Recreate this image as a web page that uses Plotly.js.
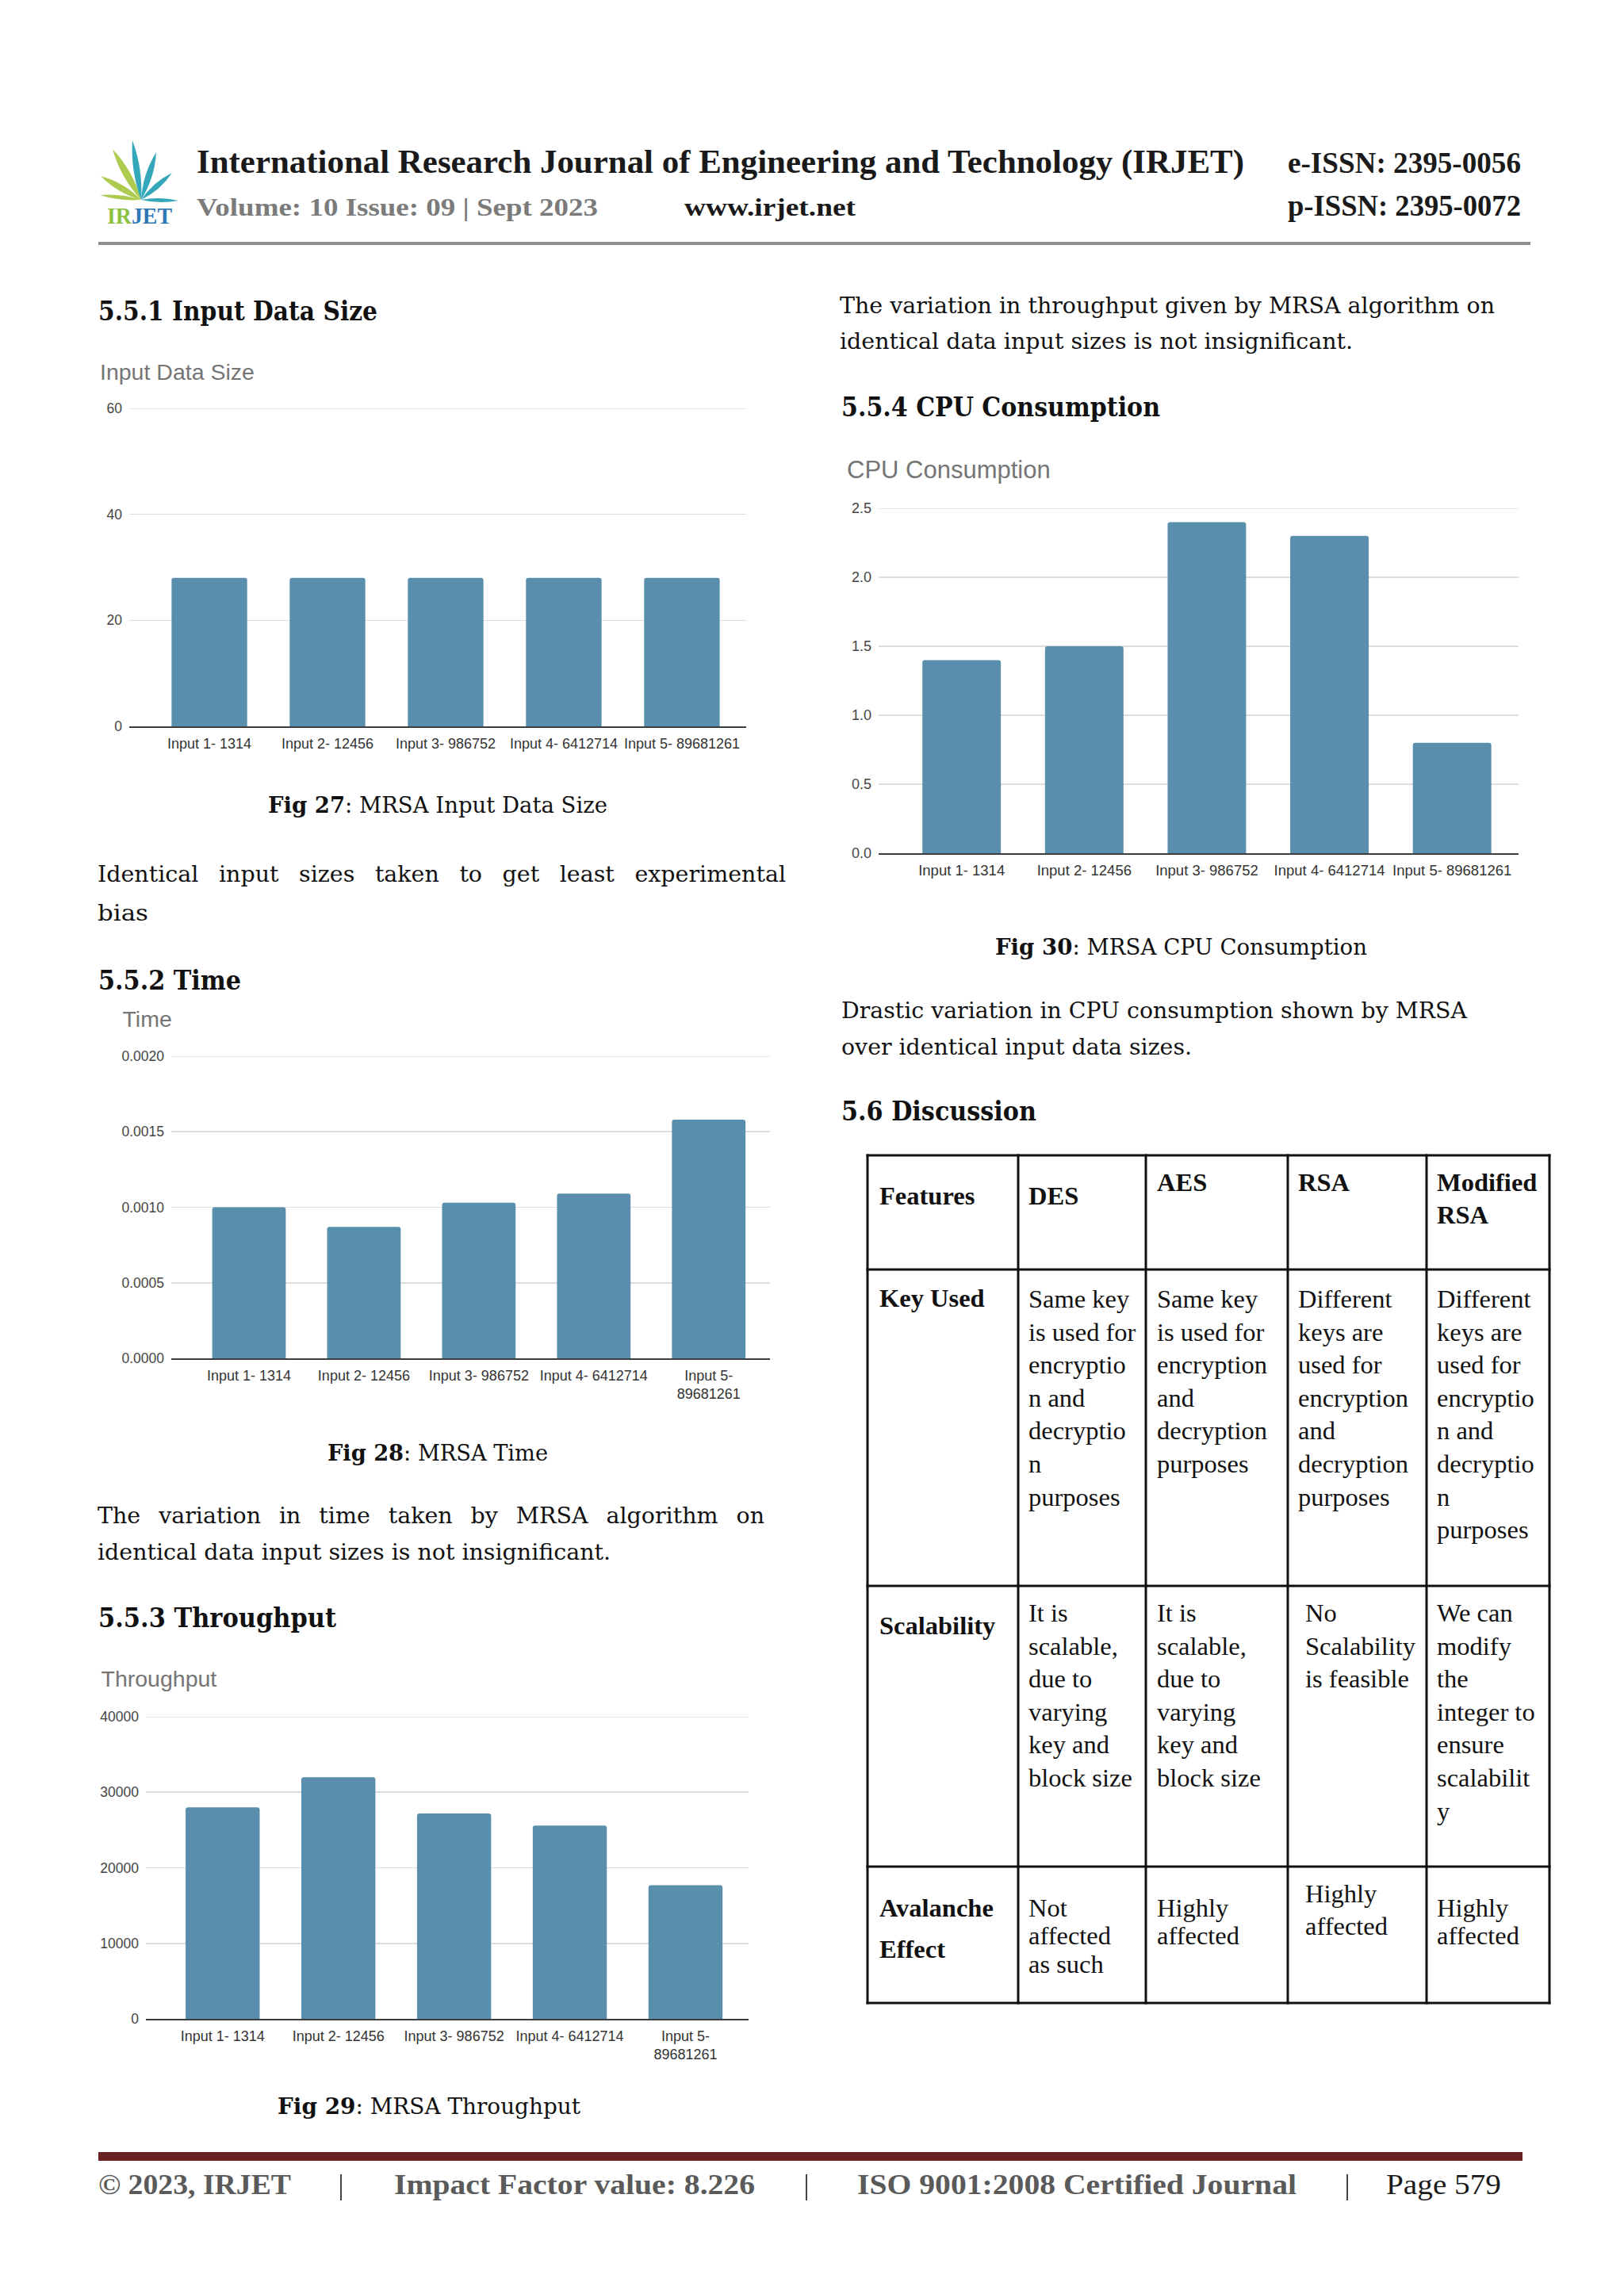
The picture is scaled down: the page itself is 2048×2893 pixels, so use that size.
<!DOCTYPE html>
<html><head><meta charset="utf-8">
<script src="https://cdn.plot.ly/plotly-3.0.1.min.js"></script>
<style>
html,body{margin:0;padding:0;background:#fff;}
#page{position:relative;width:2048px;height:2893px;background:#fff;overflow:hidden;}
#txt{position:absolute;left:0;top:0;}
.chart{position:absolute;}
</style></head><body>
<div id="page">
<svg id="txt" width="2048" height="2893" xmlns="http://www.w3.org/2000/svg"></svg>
<div id="chart1" class="chart"></div>
<div id="chart2" class="chart"></div>
<div id="chart3" class="chart"></div>
<div id="chart4" class="chart"></div>
</div>
<script>
// ---------------- DATA ----------------
const categories = ["Input 1- 1314", "Input 2- 12456", "Input 3- 986752", "Input 4- 6412714", "Input 5- 89681261"];
const wrappedTickLabels = ["Input 1- 1314", "Input 2- 12456", "Input 3- 986752", "Input 4- 6412714", "Input 5-<br>89681261"];
const inputDataSize = [28, 28, 28, 28, 28];
const timeValues = [0.00100, 0.00087, 0.00103, 0.00109, 0.00158];
const throughputValues = [28000, 32000, 27200, 25600, 17700];
const cpuValues = [1.4, 1.5, 2.4, 2.3, 0.8];

const tableHeader = [["Features"], ["DES"], ["AES"], ["RSA"], ["Modified", "RSA"]];
const tableKeyUsed = [["Key Used"],
  ["Same key", "is used for", "encryptio", "n and", "decryptio", "n", "purposes"],
  ["Same key", "is used for", "encryption", "and", "decryption", "purposes"],
  ["Different", "keys are", "used for", "encryption", "and", "decryption", "purposes"],
  ["Different", "keys are", "used for", "encryptio", "n and", "decryptio", "n", "purposes"]];
const tableScalability = [["Scalability"],
  ["It is", "scalable,", "due to", "varying", "key and", "block size"],
  ["It is", "scalable,", "due to", "varying", "key and", "block size"],
  ["No", "Scalability", "is feasible"],
  ["We can", "modify", "the", "integer to", "ensure", "scalabilit", "y"]];
const tableAvalanche = [["Avalanche", "Effect"],
  ["Not", "affected", "as such"],
  ["Highly", "affected"],
  ["Highly", "affected"],
  ["Highly", "affected"]];

// ---------------- SVG TEXT HELPERS ----------------
const NS = 'http://www.w3.org/2000/svg';
const svg = document.getElementById('txt');
function el(tag, attrs, parent) {
  const e = document.createElementNS(NS, tag);
  for (const k in attrs) e.setAttribute(k, attrs[k]);
  (parent || svg).appendChild(e);
  return e;
}
const SERIF_HEAD = "'Liberation Serif', 'Times New Roman', serif";
const SERIF_BODY = "'DejaVu Serif', serif";
function txt(x, y, parts, o) {
  const t = el('text', {x: x, y: y, 'font-family': o.family || SERIF_BODY, 'font-size': o.size,
    fill: o.color || '#111', 'font-weight': o.weight || 'normal'});
  if (typeof parts === 'string') t.textContent = parts;
  else parts.forEach(p => { const s = el('tspan', {'font-weight': p[1]}, t); s.textContent = p[0]; });
  if (o.w) { t.setAttribute('textLength', o.w); t.setAttribute('lengthAdjust', 'spacingAndGlyphs'); }
  return t;
}
function justify(x0, x1, y, str, o) {
  const words = str.split(' ');
  const els = words.map(w => txt(0, y, w, o));
  const ws = els.map(e => e.getComputedTextLength());
  const tot = ws.reduce((a, b) => a + b, 0);
  const gap = (x1 - x0 - tot) / (words.length - 1);
  let x = x0;
  els.forEach((e, i) => { e.setAttribute('x', x); x += ws[i] + gap; });
}

// ---------------- HEADER ----------------
function leaf(bx, by, tx, ty, w, color) {
  const mx = (bx + tx) / 2, my = (by + ty) / 2;
  const dx = tx - bx, dy = ty - by, L = Math.hypot(dx, dy);
  const px = -dy / L * w, py = dx / L * w;
  el('path', {d: `M${bx},${by} Q${mx + px},${my + py} ${tx},${ty} Q${mx - px},${my - py} ${bx},${by} Z`, fill: color, opacity: 0.9});
}
const G = '#a3c53c', B = '#1f9db2';
leaf(178, 252, 126, 246, 5, G);
leaf(178, 252, 127, 222, 8, G);
leaf(178, 252, 142, 188, 9, G);
leaf(178, 252, 167, 177, 8, B);
leaf(178, 252, 197, 192, 8, B);
leaf(178, 252, 217, 218, 7, B);
leaf(178, 252, 225, 253, 5, B);
txt(135, 282, [["IR", 'bold'], ["JET", 'bold']], {family: SERIF_HEAD, size: 29, w: 82, color: '#2f78b8'});
svg.lastChild.firstChild.setAttribute('fill', '#8cc23f');

txt(248, 218, "International Research Journal of Engineering and Technology (IRJET)", {family: SERIF_HEAD, size: 43, weight: 'bold', w: 1321, color: '#1a1a1a'});
txt(1624, 218, "e-ISSN: 2395-0056", {family: SERIF_HEAD, size: 38, weight: 'bold', w: 294, color: '#1a1a1a'});
txt(248, 272, "Volume: 10 Issue: 09 | Sept 2023", {family: SERIF_HEAD, size: 32, weight: 'bold', w: 506, color: '#7b7b7b'});
txt(863, 272, "www.irjet.net", {family: SERIF_HEAD, size: 32, weight: 'bold', w: 216, color: '#1a1a1a'});
txt(1624, 272, "p-ISSN: 2395-0072", {family: SERIF_HEAD, size: 38, weight: 'bold', w: 294, color: '#1a1a1a'});
el('rect', {x: 124, y: 305, width: 1806, height: 4, fill: '#8e8e8e'});

// ---------------- HEADINGS, CAPTIONS, PARAGRAPHS ----------------
const H = {size: 33, weight: 'bold', color: '#111'};
txt(124, 404, "5.5.1 Input Data Size", Object.assign({w: 352}, H));
txt(124, 1247.5, "5.5.2 Time", Object.assign({w: 180}, H));
txt(124, 2052, "5.5.3 Throughput", Object.assign({w: 300}, H));
txt(1061, 525, "5.5.4 CPU Consumption", Object.assign({w: 402}, H));
txt(1061, 1413, "5.6 Discussion", Object.assign({w: 246}, H));

const C = {size: 28, color: '#111'};
txt(338, 1025, [["Fig 27", 'bold'], [": MRSA Input Data Size", 'normal']], Object.assign({w: 428}, C));
txt(413, 1841.5, [["Fig 28", 'bold'], [": MRSA Time", 'normal']], Object.assign({w: 278}, C));
txt(350, 2666, [["Fig 29", 'bold'], [": MRSA Throughput", 'normal']], Object.assign({w: 382}, C));
txt(1255, 1204, [["Fig 30", 'bold'], [": MRSA CPU Consumption", 'normal']], Object.assign({w: 469}, C));

const P = {size: 28.5, color: '#111'};
justify(123, 991, 1111.5, "Identical input sizes taken to get least experimental", P);
txt(123, 1161, "bias", Object.assign({w: 64}, P));
justify(123, 964, 1920.5, "The variation in time taken by MRSA algorithm on", P);
txt(123, 1966.5, "identical data input sizes is not insignificant.", Object.assign({w: 647}, P));
txt(1059, 395, "The variation in throughput given by MRSA algorithm on", Object.assign({w: 826}, P));
txt(1059, 440, "identical data input sizes is not insignificant.", Object.assign({w: 647}, P));
txt(1061, 1283.5, "Drastic variation in CPU consumption shown by MRSA", Object.assign({w: 789}, P));
txt(1061, 1329.5, "over identical input data sizes.", Object.assign({w: 442}, P));

// ---------------- TABLE ----------------
const colX = [1094, 1284, 1445, 1624, 1799, 1954];
const rowY = [1457, 1601, 2000, 2354, 2526];
colX.forEach(x => el('line', {x1: x, y1: rowY[0] - 1.5, x2: x, y2: rowY[4] + 1.5, stroke: '#111', 'stroke-width': 3}));
rowY.forEach(y => el('line', {x1: colX[0] - 1.5, y1: y, x2: colX[5] + 1.5, y2: y, stroke: '#111', 'stroke-width': 3}));
const textX = [1109, 1297, 1459, 1637, 1812];
const TF = "'Liberation Serif', serif";
function cellLines(col, lines, y0, dy, bold, dx) {
  lines.forEach((s, i) => txt(textX[col] + (dx || 0), y0 + i * dy, s, {family: TF, size: 32.5, weight: bold ? 'bold' : 'normal', color: '#111'}));
}
const hdrY = [1519, 1519, 1502, 1502, 1502];
tableHeader.forEach((ls, c) => cellLines(c, ls, hdrY[c], 40.7, true));
tableKeyUsed.forEach((ls, c) => cellLines(c, ls, c === 0 ? 1648 : 1649, 41.6, c === 0));
tableScalability.forEach((ls, c) => cellLines(c, ls, c === 0 ? 2061 : 2045, 41.6, c === 0, c === 3 ? 9 : 0));
const avY = [2416.5, 2416.5, 2416.5, 2399, 2416.5];
const avDy = [52.5, 35.8, 35.8, 40.6, 35.8];
tableAvalanche.forEach((ls, c) => cellLines(c, ls, avY[c], avDy[c], c === 0, c === 3 ? 9 : 0));

// ---------------- FOOTER ----------------
el('rect', {x: 124, y: 2714, width: 1796, height: 11, fill: '#6a2121'});
const F = {family: SERIF_HEAD, size: 36, weight: 'bold', color: '#5a5a5a'};
txt(124, 2767, "© 2023, IRJET", Object.assign({w: 243}, F));
txt(497, 2767, "Impact Factor value: 8.226", Object.assign({w: 455}, F));
txt(1081, 2767, "ISO 9001:2008 Certified Journal", Object.assign({w: 554}, F));
txt(1748, 2767, "Page 579", {family: SERIF_HEAD, size: 36, weight: 'normal', color: '#1a1a1a', w: 145});
[430, 1017, 1699].forEach(x => el('line', {x1: x, y1: 2742, x2: x, y2: 2775, stroke: '#444', 'stroke-width': 2}));

// ---------------- CHARTS ----------------
const BAR_COLOR = '#598fad';
const GRID_COLOR = '#dddddd';
const SANS = "'Liberation Sans', Arial, sans-serif";
function drawBar(id, cfg) {
  const d = document.getElementById(id);
  const b = cfg.box, p = cfg.plot;
  d.style.left = b.x + 'px'; d.style.top = b.y + 'px';
  d.style.width = b.w + 'px'; d.style.height = b.h + 'px';
  const trace = {type: 'bar', x: categories, y: cfg.values, width: 0.64,
    marker: {color: BAR_COLOR, cornerradius: 3, line: {width: 0}}};
  const layout = {
    width: b.w, height: b.h,
    margin: {l: p.x0 - b.x, r: b.x + b.w - p.x1, t: p.y0 - b.y, b: b.y + b.h - p.y1, pad: 0, autoexpand: false},
    paper_bgcolor: 'rgba(0,0,0,0)', plot_bgcolor: 'rgba(0,0,0,0)',
    showlegend: false,
    title: {text: cfg.title, font: {family: SANS, size: cfg.titleSize, color: '#757575'},
      xref: 'container', yref: 'container', xanchor: 'left', yanchor: 'top',
      x: (cfg.titleX - b.x) / b.w,
      y: 1 - (cfg.titleBase - 0.7 * cfg.titleSize - b.y) / b.h,
      pad: {t: 0, b: 0, l: 0, r: 0}},
    xaxis: {type: 'category', range: cfg.xRange, tickmode: 'array', tickvals: categories, ticktext: cfg.tickText,
      showgrid: false, zeroline: false, showline: true, linecolor: '#3d3d3d', linewidth: 2, ticks: '',
      ticklabelstandoff: cfg.xStandoff, automargin: false, fixedrange: true,
      tickfont: {family: SANS, size: cfg.xFont, color: '#333'}},
    yaxis: {range: cfg.yRange, tick0: 0, dtick: cfg.dtick, tickformat: cfg.tickformat,
      showgrid: true, gridcolor: GRID_COLOR, gridwidth: 1.6, zeroline: false, showline: false, ticks: '',
      ticklabelstandoff: cfg.yStandoff, automargin: false, fixedrange: true,
      tickfont: {family: SANS, size: cfg.yFont, color: '#444'}},
    // top gridline (Plotly omits a gridline that sits on the plot edge)
    shapes: [{type: 'line', xref: 'paper', yref: 'y', x0: 0, x1: 1, y0: cfg.yRange[1], y1: cfg.yRange[1],
      line: {color: GRID_COLOR, width: 1.6}, layer: 'below'}]
  };
  Plotly.newPlot(d, [trace], layout, {staticPlot: true, displayModeBar: false});
}

drawBar('chart1', {box: {x: 100, y: 430, w: 880, h: 545}, plot: {x0: 163, x1: 941, y0: 515, y1: 916},
  values: inputDataSize, yRange: [0, 60], dtick: 20, tickformat: 'd', xRange: [-0.678, 4.544],
  tickText: categories, title: 'Input Data Size', titleSize: 28.5, titleX: 126, titleBase: 479,
  xFont: 18, yFont: 17.5, xStandoff: 4, yStandoff: 8});
drawBar('chart2', {box: {x: 100, y: 1255, w: 900, h: 530}, plot: {x0: 216, x1: 971, y0: 1332, y1: 1713},
  values: timeValues, yRange: [0, 0.002], dtick: 0.0005, tickformat: '.4f', xRange: [-0.676, 4.533],
  tickText: wrappedTickLabels, title: 'Time', titleSize: 28.5, titleX: 154.5, titleBase: 1295,
  xFont: 18, yFont: 17.5, xStandoff: 4, yStandoff: 8});
drawBar('chart3', {box: {x: 100, y: 2085, w: 880, h: 530}, plot: {x0: 184, x1: 944, y0: 2165, y1: 2546},
  values: throughputValues, yRange: [0, 40000], dtick: 10000, tickformat: 'd', xRange: [-0.663, 4.545],
  tickText: wrappedTickLabels, title: 'Throughput', titleSize: 28.5, titleX: 127.5, titleBase: 2127,
  xFont: 18, yFont: 17.5, xStandoff: 4, yStandoff: 8});
drawBar('chart4', {box: {x: 1040, y: 555, w: 900, h: 575}, plot: {x0: 1108, x1: 1915, y0: 641, y1: 1076},
  values: cpuValues, yRange: [0, 2.5], dtick: 0.5, tickformat: '.1f', xRange: [-0.677, 4.542],
  tickText: categories, title: 'CPU Consumption', titleSize: 31, titleX: 1068, titleBase: 602.5,
  xFont: 18.5, yFont: 18, xStandoff: 4, yStandoff: 8});
</script>
</body></html>
